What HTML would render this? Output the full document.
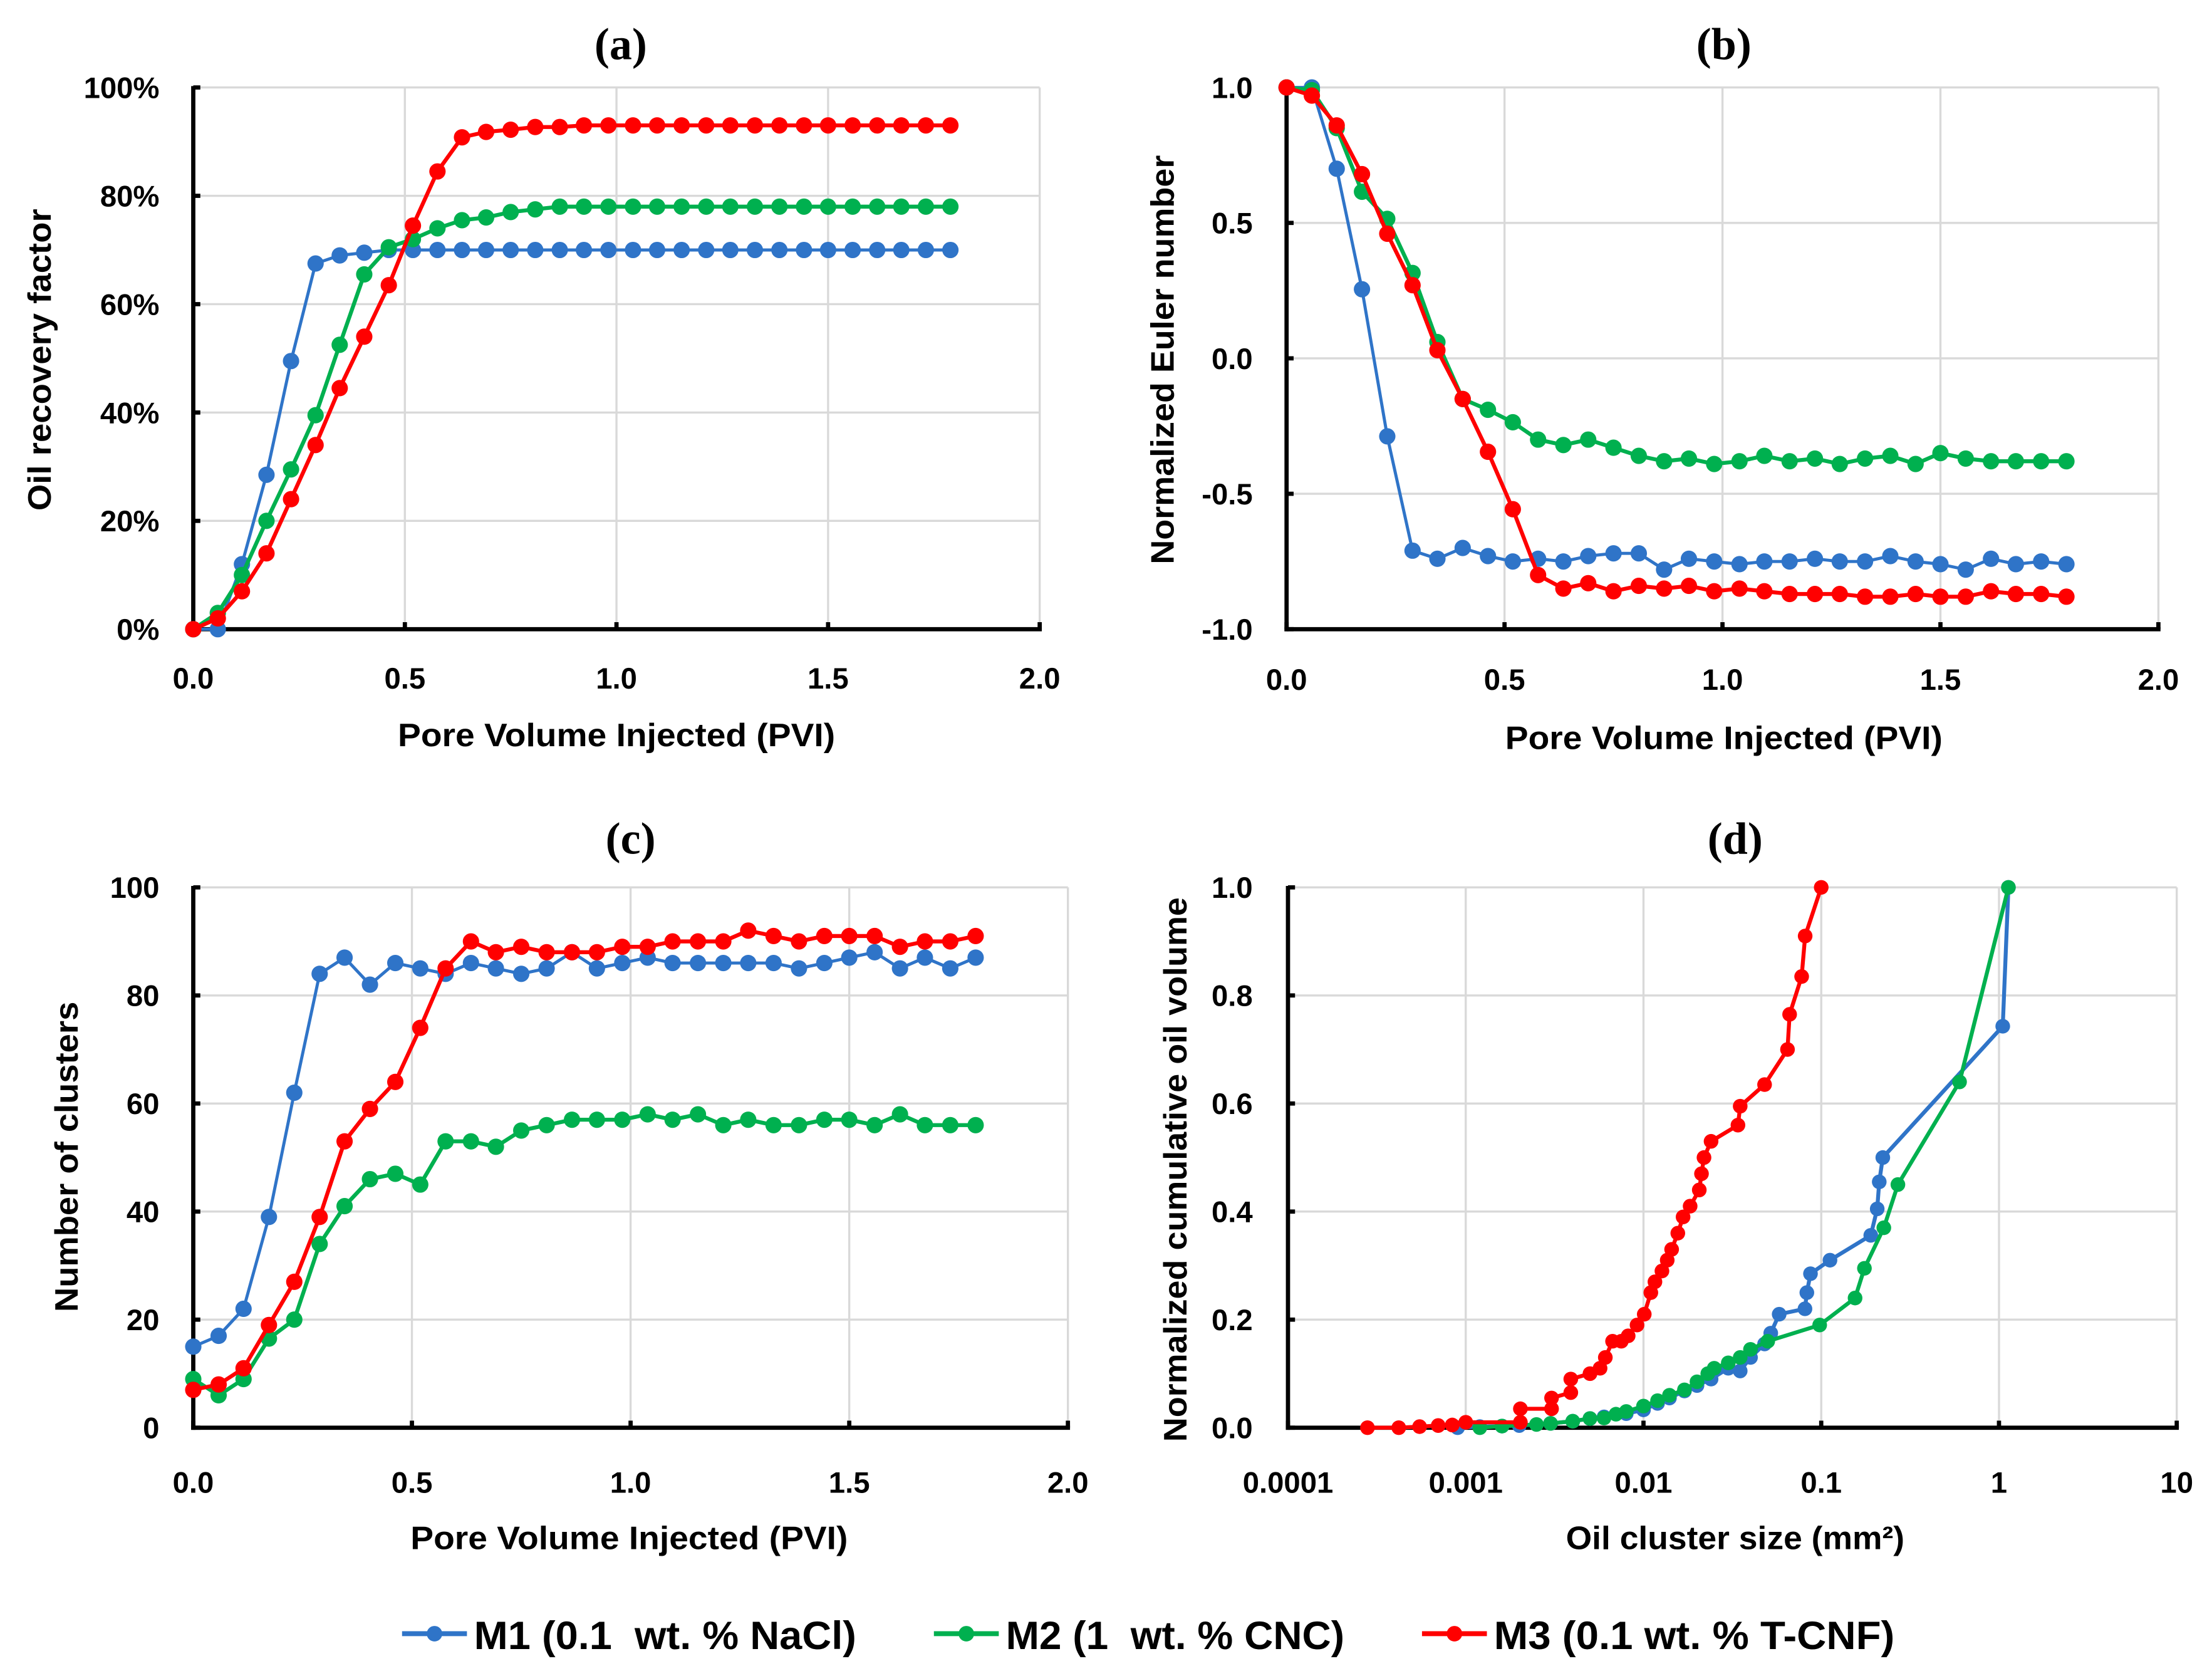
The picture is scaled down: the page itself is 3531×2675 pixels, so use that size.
<!DOCTYPE html>
<html><head><meta charset="utf-8"><style>
html,body{margin:0;padding:0;background:#fff;}
svg{display:block;}
text{font-family:"Liberation Sans",sans-serif;font-weight:bold;fill:#000;}
.ttl{font-family:"Liberation Serif",serif;font-size:32px;}
.tick{font-size:21px;}
.axt{font-size:23px;}
.leg{font-size:28px;white-space:pre;}
</style></head><body>
<svg id="fig" width="3531" height="2675" viewBox="0 0 1568 1188" preserveAspectRatio="none" xmlns="http://www.w3.org/2000/svg"></svg>
<script>
// ---- shared x values (PVI) ----
const pvi = [0,0.058,0.115,0.173,0.231,0.289,0.346,0.404,0.462,0.519,0.577,0.635,0.692,0.750,0.808,0.866,0.923,0.981,1.039,1.096,1.154,1.212,1.269,1.327,1.385,1.443,1.500,1.558,1.616,1.673,1.731,1.789];
// ---- (a) oil recovery factor (%) ----
const recM1 = [0,0,12,28.5,49.5,67.5,69,69.5,70,70,70,70,70,70,70,70,70,70,70,70,70,70,70,70,70,70,70,70,70,70,70,70];
const recM2 = [0,3,10,20,29.5,39.5,52.5,65.5,70.5,72,74,75.5,76,77,77.5,78,78,78,78,78,78,78,78,78,78,78,78,78,78,78,78,78];
const recM3 = [0,2,7,14,24,34,44.5,54,63.5,74.5,84.5,90.8,91.8,92.2,92.7,92.7,93,93,93,93,93,93,93,93,93,93,93,93,93,93,93,93];
const recTicks = ["0%","20%","40%","60%","80%","100%"];
// ---- (b) normalized Euler number ----
const eulM1 = [1.0,1.0,0.70,0.255,-0.288,-0.71,-0.74,-0.70,-0.73,-0.75,-0.74,-0.75,-0.73,-0.72,-0.72,-0.78,-0.74,-0.75,-0.76,-0.75,-0.75,-0.74,-0.75,-0.75,-0.73,-0.75,-0.76,-0.78,-0.74,-0.76,-0.75,-0.76];
const eulM2 = [1.0,0.99,0.85,0.615,0.515,0.315,0.06,-0.15,-0.19,-0.236,-0.30,-0.32,-0.30,-0.33,-0.36,-0.38,-0.37,-0.39,-0.38,-0.36,-0.38,-0.37,-0.39,-0.37,-0.36,-0.39,-0.35,-0.37,-0.38,-0.38,-0.38,-0.38];
const eulM3 = [1.0,0.97,0.86,0.68,0.46,0.27,0.03,-0.15,-0.345,-0.557,-0.80,-0.85,-0.83,-0.86,-0.84,-0.85,-0.84,-0.86,-0.85,-0.86,-0.87,-0.87,-0.87,-0.88,-0.88,-0.87,-0.88,-0.88,-0.86,-0.87,-0.87,-0.88];
const eulTicks = ["-1.0","-0.5","0.0","0.5","1.0"];
// ---- (c) number of clusters ----
const clM1 = [15,17,22,39,62,84,87,82,86,85,84,86,85,84,85,88,85,86,87,86,86,86,86,86,85,86,87,88,85,87,85,87];
const clM2 = [9,6,9,16.5,20,34,41,46,47,45,53,53,52,55,56,57,57,57,58,57,58,56,57,56,56,57,57,56,58,56,56,56];
const clM3 = [7,8,11,19,27,39,53,59,64,74,85,90,88,89,88,88,88,89,89,90,90,90,92,91,90,91,91,91,89,90,90,91];
const clTicks = ["0","20","40","60","80","100"];
const pviTicks = ["0.0","0.5","1.0","1.5","2.0"];
// ---- (d) cumulative oil volume vs cluster size (mm2) ----
const sizeM1 = [0.0009,0.0012,0.0016,0.002,0.003,0.004,0.005,0.006,0.008,0.01,0.012,0.014,0.017,0.02,0.024,0.03,0.035,0.04,0.048,0.052,0.058,0.081,0.083,0.087,0.112,0.19,0.2065,0.212,0.222,1.05,1.13];
const cumM1  = [0,0.002,0.003,0.004,0.008,0.012,0.017,0.02,0.026,0.033,0.045,0.055,0.068,0.078,0.09,0.11,0.105,0.13,0.155,0.175,0.21,0.22,0.25,0.285,0.31,0.356,0.405,0.455,0.5,0.743,1.0];
const sizeM2 = [0.0012,0.0016,0.0025,0.003,0.004,0.005,0.006,0.007,0.008,0.01,0.012,0.014,0.017,0.02,0.023,0.025,0.03,0.035,0.04,0.05,0.098,0.155,0.175,0.225,0.27,0.6,1.13];
const cumM2  = [0,0.003,0.006,0.008,0.012,0.017,0.018,0.025,0.03,0.04,0.05,0.06,0.07,0.085,0.1,0.11,0.12,0.13,0.145,0.16,0.19,0.24,0.295,0.37,0.45,0.64,1.0];
const sizeM3 = [0.00028,0.00042,0.00055,0.0007,0.00084,0.001,0.00203,0.00203,0.00304,0.00304,0.0039,0.0039,0.005,0.0057,0.0061,0.0067,0.0075,0.0082,0.0092,0.0101,0.011,0.0116,0.0127,0.0136,0.0144,0.0156,0.0167,0.0183,0.0206,0.0212,0.0219,0.024,0.034,0.035,0.048,0.0646,0.0664,0.0776,0.0812,0.1];
const cumM3  = [0,0,0.002,0.004,0.005,0.01,0.01,0.035,0.035,0.055,0.065,0.09,0.1,0.11,0.13,0.16,0.16,0.17,0.19,0.21,0.25,0.27,0.29,0.31,0.33,0.36,0.39,0.41,0.44,0.47,0.5,0.53,0.56,0.595,0.635,0.70,0.765,0.835,0.91,1.0];
const cumTicks = ["0.0","0.2","0.4","0.6","0.8","1.0"];
const sizeTicks = ["0.0001","0.001","0.01","0.1","1","10"];
const legendLabels = ["M1 (0.1  wt. % NaCl)","M2 (1  wt. % CNC)","M3 (0.1 wt. % T-CNF)"];

const BLUE="#2f74c8", GREEN="#00b04f", RED="#ff0000";
const NS="http://www.w3.org/2000/svg";
const svg=document.getElementById('fig');
function mk(tag,attrs,parent){const e=document.createElementNS(NS,tag);for(const k in attrs)e.setAttribute(k,attrs[k]);(parent||svg).appendChild(e);return e;}
function txt(s,x,y,cls,anchor,parent,rot){const t=mk('text',{x:x,y:y,'class':cls,'text-anchor':anchor||'middle'},parent);if(rot)t.setAttribute('transform','rotate(-90 '+x+' '+y+')');t.textContent=s;return t;}

function panel(o){
  const g=mk('g',{});
  
  
  const sx=o.sx, sy=o.sy;
  o.xgrid.forEach(v=>{const l=mk('line',{x1:sx(v),x2:sx(v),y1:o.top,y2:o.bot,stroke:'#d9d9d9','stroke-width':1.5},g);});
  o.ygrid.forEach(v=>{const l=mk('line',{x1:o.left,x2:o.right,y1:sy(v),y2:sy(v),stroke:'#d9d9d9','stroke-width':1.5},g);});
  const ya=mk('line',{x1:o.left,x2:o.left,y1:o.top-1,y2:o.bot+1.5,stroke:'#000','stroke-width':3},g);
  
  const xa=mk('line',{x1:o.left-1.5,x2:o.right+1.5,y1:o.xaxisY,y2:o.xaxisY,stroke:'#000','stroke-width':3},g);
  
  o.ygrid.forEach(v=>mk('line',{x1:o.left,x2:o.left+5,y1:sy(v),y2:sy(v),stroke:'#000','stroke-width':3},g));
  o.xgrid.forEach(v=>mk('line',{x1:sx(v),x2:sx(v),y1:o.xaxisY,y2:o.xaxisY-5,stroke:'#000','stroke-width':3},g));
  o.xlabels.forEach((s,i)=>{const t=txt(s,sx(o.xgrid[i]),o.xlabY,'tick','middle',g);});
  o.ylabels.forEach((s,i)=>{const t=txt(s,o.ylabX,sy(o.ygrid[i])+7.5,'tick','end',g);});
  o.series.forEach(se=>{
    const sg=mk('g',{},g);
    
    
    const pts=se.x.map((xv,i)=>sx(xv).toFixed(2)+','+sy(se.y[i]).toFixed(2)).join(' ');
    mk('polyline',{points:pts,fill:'none',stroke:se.c,'stroke-width':se.w||2.8,'stroke-linejoin':'round'},sg);
    se.x.forEach((xv,i)=>{const c=mk('circle',{cx:sx(xv),cy:sy(se.y[i]),r:o.r||5.8,fill:se.c},sg);
      });
  });
  const t1=txt(o.title,o.titleX,o.titleY,'ttl','middle',g);
  const t2=txt(o.xtitle,o.xtX,o.xtY,'axt','middle',g);t2.setAttribute('textLength',o.xtLen);t2.setAttribute('lengthAdjust','spacingAndGlyphs');
  
  const t3=txt(o.ytitle,o.ytX,o.ytY,'axt','middle',g,true);t3.setAttribute('textLength',o.ytLen);t3.setAttribute('lengthAdjust','spacingAndGlyphs');
  
  return g;
}
function lin(d0,d1,p0,p1){return v=>p0+(v-d0)/(d1-d0)*(p1-p0);}

panel({name:'panel-a-recovery',left:137,right:737,top:62,bot:446,xaxisY:446,
  sx:lin(0,2,137,737),sy:lin(0,100,446,62),xgrid:[0,0.5,1,1.5,2],ygrid:[0,20,40,60,80,100],
  xlabels:pviTicks,ylabels:recTicks,xlabY:488,ylabX:113,
  series:[{name:'series-m1',x:pvi,y:recM1,c:BLUE,w:2.2},{name:'series-m2',x:pvi,y:recM2,c:GREEN},{name:'series-m3',x:pvi,y:recM3,c:RED}],
  title:'(a)',titleX:440,titleY:42,xtitle:'Pore Volume Injected (PVI)',xtX:437,xtY:529,xtLen:310,
  ytitle:'Oil recovery factor',ytX:36,ytY:255,ytLen:214});
panel({name:'panel-b-euler',left:912,right:1530,top:62,bot:446,xaxisY:446,
  sx:lin(0,2,912,1530),sy:lin(-1,1,446,62),xgrid:[0,0.5,1,1.5,2],ygrid:[-1,-0.5,0,0.5,1],
  xlabels:pviTicks,ylabels:eulTicks,xlabY:489,ylabX:888,
  series:[{name:'series-m1',x:pvi,y:eulM1,c:BLUE,w:2.2},{name:'series-m2',x:pvi,y:eulM2,c:GREEN},{name:'series-m3',x:pvi,y:eulM3,c:RED}],
  title:'(b)',titleX:1222,titleY:42,xtitle:'Pore Volume Injected (PVI)',xtX:1222,xtY:531,xtLen:310,
  ytitle:'Normalized Euler number',ytX:832,ytY:255,ytLen:290});
panel({name:'panel-c-clusters',left:137,right:757,top:629,bot:1012,xaxisY:1012,
  sx:lin(0,2,137,757),sy:lin(0,100,1012,629),xgrid:[0,0.5,1,1.5,2],ygrid:[0,20,40,60,80,100],
  xlabels:pviTicks,ylabels:clTicks,xlabY:1058,ylabX:113,
  series:[{name:'series-m1',x:pvi,y:clM1,c:BLUE,w:2.2},{name:'series-m2',x:pvi,y:clM2,c:GREEN},{name:'series-m3',x:pvi,y:clM3,c:RED}],
  title:'(c)',titleX:447,titleY:605,xtitle:'Pore Volume Injected (PVI)',xtX:446,xtY:1098,xtLen:310,
  ytitle:'Number of clusters',ytX:55,ytY:820,ytLen:220});
const lx=v=>913+(Math.log10(v)+4)*126;
panel({name:'panel-d-cumulative',left:913,right:1543,top:629,bot:1012,xaxisY:1012,r:5.2,
  sx:lx,sy:lin(0,1,1012,629),xgrid:[0.0001,0.001,0.01,0.1,1,10],ygrid:[0,0.2,0.4,0.6,0.8,1],
  xlabels:sizeTicks,ylabels:cumTicks,xlabY:1058,ylabX:888,
  series:[{name:'series-m1',x:sizeM1,y:cumM1,c:BLUE},{name:'series-m2',x:sizeM2,y:cumM2,c:GREEN},{name:'series-m3',x:sizeM3,y:cumM3,c:RED}],
  title:'(d)',titleX:1230,titleY:605,xtitle:'Oil cluster size (mm²)',xtX:1230,xtY:1098,xtLen:240,
  ytitle:'Normalized cumulative oil volume',ytX:841,ytY:829,ytLen:386});

const legX=[285,662,1008], legC=[BLUE,GREEN,RED], legLen=[271,240,284];
const lg=mk('g',{});


legendLabels.forEach((s,i)=>{
  const e=mk('g',{},lg);
  
  
  mk('line',{x1:legX[i],x2:legX[i]+46,y1:1158,y2:1158,stroke:legC[i],'stroke-width':3.5},e);
  mk('circle',{cx:legX[i]+23,cy:1158,r:5.5,fill:legC[i]},e);
  const t=txt(s,legX[i]+51,1169,'leg','start',e);
  t.setAttribute('textLength',legLen[i]);t.setAttribute('lengthAdjust','spacingAndGlyphs');
});
</script>
</body></html>
